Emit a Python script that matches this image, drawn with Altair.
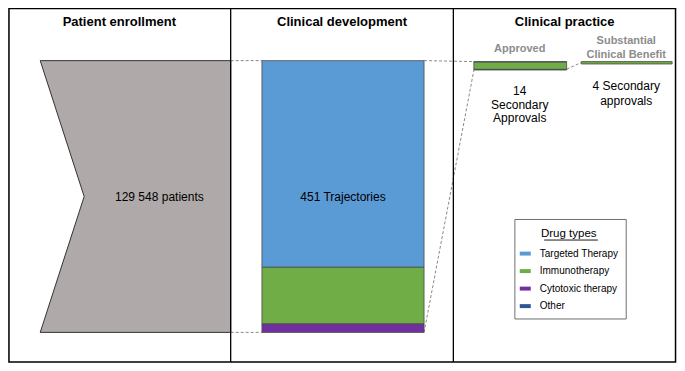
import altair as alt
import pandas as pd

# ---------------- data ----------------
drug_types = ["Targeted Therapy", "Immunotherapy", "Cytotoxic therapy", "Other"]
drug_colors = ["#5B9BD5", "#70AD47", "#7030A0", "#2F5597"]

patients = 129548
trajectories = [343, 94, 14, 0]          # by drug type, total 451
approved = [1, 12, 1, 0]                 # 14 secondary approvals
scb = [0, 4, 0, 0]                       # 4 secondary approvals

panel_titles = ["Patient enrollment", "Clinical development", "Clinical practice"]

# ---------------- layout (reference pixel space) ----------------
W, H = 669, 355
REF_W, REF_H = 685, 371
SX, SY = W / REF_W, H / REF_H
TOP = 55.0
K = (339.0 - TOP) / sum(trajectories)   # px per trajectory

xs = alt.Scale(domain=[0, REF_W], nice=False, zero=False)
ys = alt.Scale(domain=[0, REF_H], nice=False, zero=False, reverse=True)
cscale = alt.Scale(domain=drug_types, range=drug_colors)


def stack(values, x0, x1, top):
    rows, cum = [], 0
    for t, v in zip(drug_types, values):
        if v > 0:
            rows.append(dict(type=t, x=x0, x2=x1, y=top + cum * K, y2=top + (cum + v) * K))
        cum += v
    return rows


bars = pd.DataFrame(stack(trajectories, 260, 426, TOP)
                    + stack(approved, 477, 572, 56)
                    + stack(scb, 587, 680, 56))

bar_layer = alt.Chart(bars).mark_rect(stroke="#4a4a4a", strokeWidth=0.8).encode(
    x=alt.X("x:Q", scale=xs, axis=None),
    x2="x2:Q",
    y=alt.Y("y:Q", scale=ys, axis=None),
    y2="y2:Q",
    color=alt.Color(
        "type:N", scale=cscale,
        legend=alt.Legend(
            title="Drug types", orient="none",
            legendX=524 * SX, legendY=229.5 * SY,
            direction="vertical",
            padding=0,
            titleFontSize=11.5, titleFontWeight="normal", titleColor="black",
            titleFont="Liberation Sans", titleAnchor="middle", titlePadding=9,
            labelFont="Liberation Sans", labelFontSize=10, labelColor="black",
            labelOffset=9,
            symbolType="M-1,-0.36H1V0.36H-1Z", symbolStrokeWidth=0, symbolSize=121,
            rowPadding=6.5, labelLimit=200,
        ),
    ),
)

# legend box and title underline
lbox = pd.DataFrame(dict(x=[519], x2=[633], y=[221], y2=[325]))
lbox_layer = alt.Chart(lbox).mark_rect(fill="white", stroke="#6f6f6f", strokeWidth=1).encode(
    x=alt.X("x:Q", scale=xs, axis=None), x2="x2:Q",
    y=alt.Y("y:Q", scale=ys, axis=None), y2="y2:Q",
)
uline = pd.DataFrame(dict(x=[549], x2=[604], y=[242.5]))
uline_layer = alt.Chart(uline).mark_rule(color="black", strokeWidth=0.9).encode(
    x=alt.X("x:Q", scale=xs, axis=None), x2="x2:Q",
    y=alt.Y("y:Q", scale=ys, axis=None),
)

# patient funnel shape
funnel = pd.DataFrame(dict(y=[55, 197, 339], x=[33, 78, 33], x2=[228, 228, 228]))
funnel_layer = alt.Chart(funnel).mark_area(
    orient="horizontal", color="#AFAAA9", stroke="#333333", strokeWidth=1
).encode(
    y=alt.Y("y:Q", scale=ys, axis=None),
    x=alt.X("x:Q", scale=xs, axis=None),
    x2="x2:Q",
)

# dashed connectors
dash = pd.DataFrame(dict(
    x=[228, 426, 228, 426, 572],
    y=[55, 55, 339, 339, 64],
    x2=[260, 477, 260, 477, 587],
    y2=[55, 56, 339, 65, 57],
))
dash_layer = alt.Chart(dash).mark_rule(color="#8a8a8a", strokeDash=[3, 2], strokeWidth=1).encode(
    x=alt.X("x:Q", scale=xs, axis=None), y=alt.Y("y:Q", scale=ys, axis=None),
    x2="x2:Q", y2="y2:Q",
)

# frame
frame = pd.DataFrame(dict(x=[1], x2=[683.5], y=[0.5], y2=[370]))
frame_layer = alt.Chart(frame).mark_rect(fill=None, stroke="black", strokeWidth=1.5).encode(
    x=alt.X("x:Q", scale=xs, axis=None), x2="x2:Q",
    y=alt.Y("y:Q", scale=ys, axis=None), y2="y2:Q",
)
divs = pd.DataFrame(dict(x=[228, 456], y=[0, 0], y2=[370, 370]))
div_layer = alt.Chart(divs).mark_rule(color="black", strokeWidth=1.3).encode(
    x=alt.X("x:Q", scale=xs, axis=None),
    y=alt.Y("y:Q", scale=ys, axis=None), y2="y2:Q",
)

# texts
titles = pd.DataFrame(dict(t=panel_titles, x=[114, 342, 570], y=[15, 15, 15]))
title_layer = alt.Chart(titles).mark_text(
    font="Liberation Sans", fontSize=13, fontWeight="bold", color="black", baseline="middle"
).encode(x=alt.X("x:Q", scale=xs, axis=None), y=alt.Y("y:Q", scale=ys, axis=None), text="t:N")

heads = pd.DataFrame(dict(t=["Approved", "Substantial", "Clinical Benefit"],
                          x=[524, 633, 633], y=[43, 35, 49]))
head_layer = alt.Chart(heads).mark_text(
    font="Liberation Sans", fontSize=11, fontWeight="bold", color="#8c8c8c", baseline="middle"
).encode(x=alt.X("x:Q", scale=xs, axis=None), y=alt.Y("y:Q", scale=ys, axis=None), text="t:N")

n_traj = sum(trajectories)
n_app = sum(approved)
n_scb = sum(scb)
pat_label = f"{patients:,}".replace(",", " ") + " patients"
labels = pd.DataFrame(dict(
    t=[pat_label, f"{n_traj} Trajectories", f"{n_app}", "Secondary", "Approvals",
       f"{n_scb} Secondary", "approvals"],
    x=[155, 343, 524, 524, 524, 633, 633],
    y=[198, 197, 87, 101, 115, 82, 97],
))
label_layer = alt.Chart(labels).mark_text(
    font="Liberation Sans", fontSize=12, color="black", baseline="middle"
).encode(x=alt.X("x:Q", scale=xs, axis=None), y=alt.Y("y:Q", scale=ys, axis=None), text="t:N")

chart = alt.layer(
    funnel_layer, dash_layer, lbox_layer, uline_layer, bar_layer, frame_layer, div_layer,
    title_layer, head_layer, label_layer,
).properties(
    width=W, height=H, padding=0, autosize=alt.AutoSizeParams(type="none"),
).configure_view(stroke=None).configure(background="white")

chart.save("out.html", embed_options={"renderer": "svg", "actions": False})
